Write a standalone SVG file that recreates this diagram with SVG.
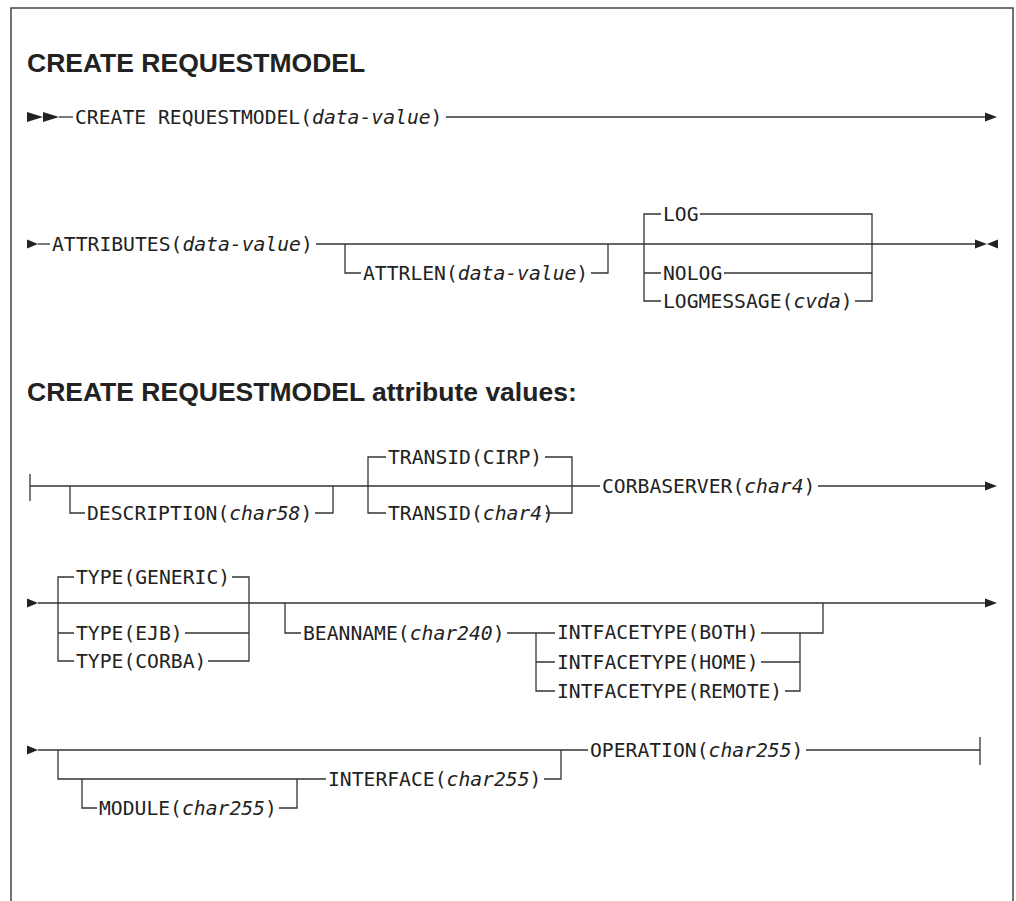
<svg xmlns="http://www.w3.org/2000/svg" width="1016" height="901" viewBox="0 0 1016 901">
<style>
.t{font-family:"DejaVu Sans Mono","Liberation Mono",monospace;font-size:19.7px;fill:#222}
.i{font-style:italic}
.h{font-family:"Liberation Sans",Arial,sans-serif;font-weight:bold;font-size:26.5px;fill:#222}
.c path,.c line{stroke:#333;stroke-width:1.3;fill:none}
.c polygon{fill:#222;stroke:none}
.frame{stroke:#444;stroke-width:1.5;fill:none}
</style>
<rect width="1016" height="901" fill="#fff"/>
<path class="frame" d="M11,901 V8 H1013 V901"/>
<text class="h" x="27" y="71.5">CREATE REQUESTMODEL</text>
<text class="h" x="27" y="401">CREATE REQUESTMODEL attribute values:</text>

<g id="n-create"><text class="t" x="75" y="124">CREATE REQUESTMODEL(<tspan class="i">data-value</tspan>)</text></g>
<g id="n-attributes"><text class="t" x="52" y="251">ATTRIBUTES(<tspan class="i">data-value</tspan>)</text></g>
<g id="n-attrlen"><text class="t" x="363" y="280">ATTRLEN(<tspan class="i">data-value</tspan>)</text></g>
<g id="n-log"><text class="t" x="663" y="221">LOG</text></g>
<g id="n-nolog"><text class="t" x="663" y="280">NOLOG</text></g>
<g id="n-logmessage"><text class="t" x="663" y="308">LOGMESSAGE(<tspan class="i">cvda</tspan>)</text></g>
<g id="n-description"><text class="t" x="87" y="520">DESCRIPTION(<tspan class="i">char58</tspan>)</text></g>
<g id="n-transid-cirp"><text class="t" x="388" y="464">TRANSID(CIRP)</text></g>
<g id="n-transid"><text class="t" x="388" y="520">TRANSID(<tspan class="i">char4</tspan>)</text></g>
<g id="n-corbaserver"><text class="t" x="602" y="493">CORBASERVER(<tspan class="i">char4</tspan>)</text></g>
<g id="n-type-generic"><text class="t" x="76" y="584">TYPE(GENERIC)</text></g>
<g id="n-type-ejb"><text class="t" x="76" y="640">TYPE(EJB)</text></g>
<g id="n-type-corba"><text class="t" x="76" y="668">TYPE(CORBA)</text></g>
<g id="n-beanname"><text class="t" x="303" y="640">BEANNAME(<tspan class="i">char240</tspan>)</text></g>
<g id="n-ift-both"><text class="t" x="557" y="639">INTFACETYPE(BOTH)</text></g>
<g id="n-ift-home"><text class="t" x="557" y="669">INTFACETYPE(HOME)</text></g>
<g id="n-ift-remote"><text class="t" x="557" y="698">INTFACETYPE(REMOTE)</text></g>
<g id="n-module"><text class="t" x="99" y="815">MODULE(<tspan class="i">char255</tspan>)</text></g>
<g id="n-interface"><text class="t" x="328" y="786">INTERFACE(<tspan class="i">char255</tspan>)</text></g>
<g id="n-operation"><text class="t" x="590" y="757">OPERATION(<tspan class="i">char255</tspan>)</text></g>

<g id="connectors" class="c">
<!-- line 1 -->
<polygon points="27,112 43,117 27,122"/>
<polygon points="43,112 59,117 43,122"/>
<line x1="59" y1="117" x2="73" y2="117"/>
<line x1="446" y1="117" x2="986" y2="117"/>
<polygon points="985,112.5 997,117 985,121.5"/>
<!-- line 2 -->
<polygon points="27,239.5 38,244 27,248.5"/>
<line x1="38" y1="244" x2="50" y2="244"/>
<line x1="316" y1="244" x2="976" y2="244"/>
<path d="M345,244 V273 H361 M591,273 H608 V244"/>
<path d="M661,214 H644 V301 H661 M700,214 H872 V301 H855 M644,273 H661 M724,273 H872"/>
<polygon points="975,239.5 987,244 975,248.5"/>
<polygon points="998,239.5 987,244 998,248.5"/>
<!-- line 3 -->
<line x1="30" y1="474" x2="30" y2="501"/>
<line x1="30" y1="486" x2="600" y2="486"/>
<path d="M70,486 V513 H85 M315,513 H333 V486"/>
<path d="M386,457 H368 V513 H386 M545,457 H572 V513 H546"/>
<line x1="818" y1="486" x2="986" y2="486"/>
<polygon points="985,481.5 997,486 985,490.5"/>
<!-- line 4 -->
<polygon points="27,598.5 38,603 27,607.5"/>
<line x1="38" y1="603" x2="986" y2="603"/>
<polygon points="985,598.5 997,603 985,607.5"/>
<path d="M74,577 H58 V661 H74 M232,577 H249 V661 H208 M58,633 H74 M185,633 H249"/>
<path d="M285,603 V633 H301 M507,633 H555 M536,633 V691 H555 M536,662 H555"/>
<path d="M761,633 H823 V603 M800,633 V691 H785 M761,662 H800"/>
<!-- line 5 -->
<polygon points="27,745.5 38,750 27,754.5"/>
<line x1="38" y1="750" x2="588" y2="750"/>
<path d="M58,750 V779 H326 M82,779 V808 H97 M279,808 H297 V779"/>
<path d="M544,779 H561 V750"/>
<line x1="806" y1="750" x2="980" y2="750"/>
<line x1="980" y1="737" x2="980" y2="765"/>
</g>
</svg>
